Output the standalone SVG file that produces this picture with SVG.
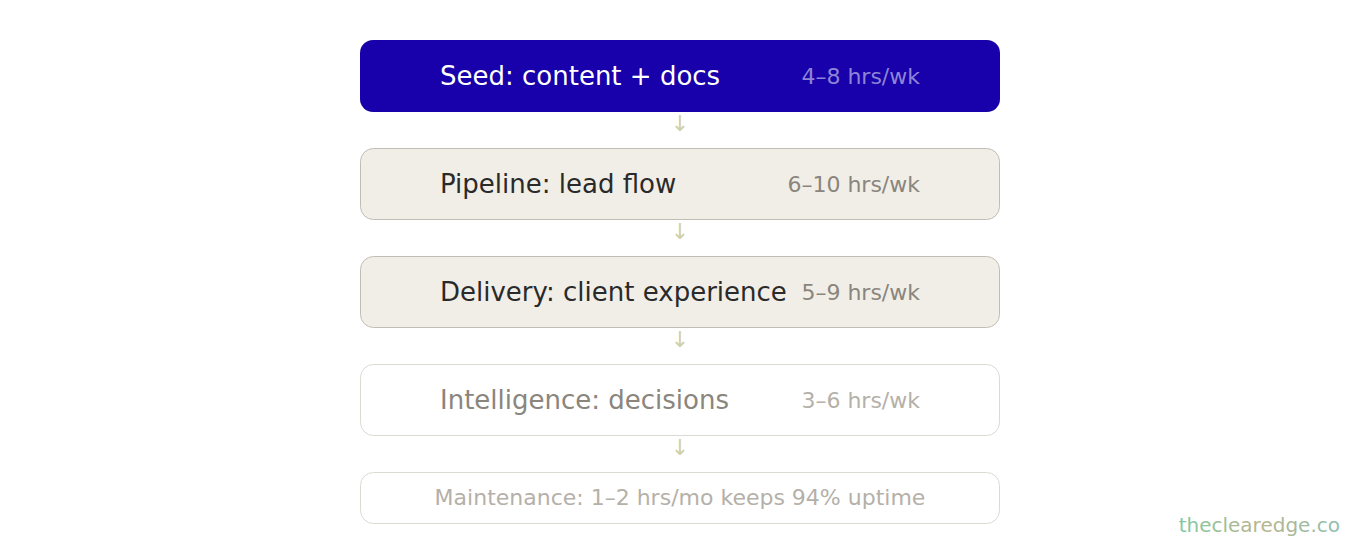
<svg xmlns="http://www.w3.org/2000/svg" width="1360" height="540" viewBox="0 0 1360 540">
<defs>
<linearGradient id="wm" x1="0" y1="0" x2="1" y2="0">
<stop offset="0" stop-color="#7fc9a2"/>
<stop offset="0.5" stop-color="#b8b58e"/>
<stop offset="1" stop-color="#8fbfae"/>
</linearGradient>
</defs>
<style>
text{font-family:"DejaVu Sans","Liberation Sans",sans-serif}
.title{font-size:26px}
.hrs{font-size:22px;text-anchor:end}
.arrow{font-size:22px;fill:#cfd0a8;text-anchor:middle}
.warm rect{fill:#f1eee7;stroke:#c2bdb3;stroke-width:1}
.light rect{fill:#ffffff;stroke:#dcd9d3;stroke-width:1}
</style>
<rect width="1360" height="540" fill="#ffffff"/>
<g id="seed">
<rect x="360" y="40" width="640" height="72" rx="13" fill="#1800aa"/>
<text class="title" x="440" y="85" fill="#ffffff">Seed: content + docs</text>
<text class="hrs" x="920" y="84" fill="#8e84d6">4–8 hrs/wk</text>
</g>
<g id="pipeline" class="warm">
<rect x="360.5" y="148.5" width="639" height="71" rx="13"/>
<text class="title" x="440" y="193" fill="#2a2a2a">Pipeline: lead flow</text>
<text class="hrs" x="920" y="192" fill="#8a857d">6–10 hrs/wk</text>
</g>
<g id="delivery" class="warm">
<rect x="360.5" y="256.5" width="639" height="71" rx="13"/>
<text class="title" x="440" y="301" fill="#2a2a2a">Delivery: client experience</text>
<text class="hrs" x="920" y="300" fill="#8a857d">5–9 hrs/wk</text>
</g>
<g id="intelligence" class="light">
<rect x="360.5" y="364.5" width="639" height="71" rx="13"/>
<text class="title" x="440" y="409" fill="#8a857d">Intelligence: decisions</text>
<text class="hrs" x="920" y="408" fill="#b5b0a8">3–6 hrs/wk</text>
</g>
<g id="maintenance" class="light">
<rect x="360.5" y="472.5" width="639" height="51" rx="13"/>
<text x="680" y="505" font-size="22" text-anchor="middle" fill="#b5b0a8">Maintenance: 1–2 hrs/mo keeps 94% uptime</text>
</g>
<g id="connectors">
<text class="arrow" x="680" y="131">↓</text>
<text class="arrow" x="680" y="239">↓</text>
<text class="arrow" x="680" y="347">↓</text>
<text class="arrow" x="680" y="455">↓</text>
</g>
<g id="watermark">
<text x="1340" y="532" font-size="20" text-anchor="end" fill="url(#wm)">theclearedge.co</text>
</g>
</svg>
